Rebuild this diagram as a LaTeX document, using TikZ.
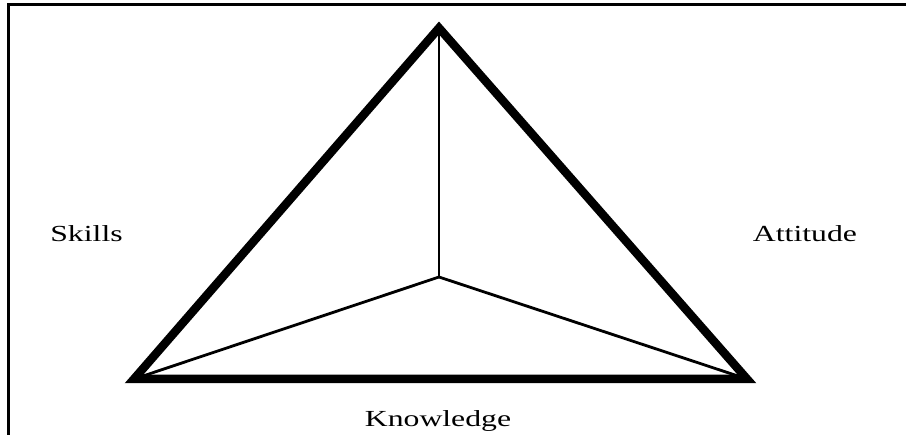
\documentclass[tikz,border=0pt]{standalone}
\usepackage{graphicx}
\usepackage{fontspec}
\setmainfont{Liberation Serif}
\usetikzlibrary{positioning}

\newcommand{\widetext}[1]{\scalebox{1.38}[1]{#1}}

\begin{document}
\begin{tikzpicture}[
  x=1pt, y=-1pt,
  side/.style={line width=8.5pt, line join=miter},
  spoke/.style={line width=2.8pt},
  frame/.style={line width=2.2pt},
  label/.style={font=\fontsize{23}{26}\selectfont, inner sep=0pt, anchor=base}
]
\useasboundingbox (0,0) rectangle (906,435);

% frame (only top and left edges show)
\coordinate (ftl) at (8.5,4.5);
\coordinate (ftr) at (906,4.5);
\coordinate (fbl) at (8.5,435);
\draw[frame] (ftr) -- (ftl) -- (fbl);

% corners of the triangle and its centre
\coordinate (top) at (439,28);
\coordinate (left) at (134,379);
\coordinate (right) at (747,379);
\coordinate (mid) at (439,277);

\draw[spoke] (mid) -- (top);
\draw[spoke] (mid) -- (left);
\draw[spoke] (mid) -- (right);
\draw[side] (top) -- (left) -- (right) -- cycle;

\node[label] (skills) at (86.5,242) {\widetext{Skills}};
\node[label] (attitude) at (805,242) {\widetext{Attitude}};
\node[label] (knowledge) at (438,427) {\widetext{Knowledge}};

\end{tikzpicture}
\end{document}
